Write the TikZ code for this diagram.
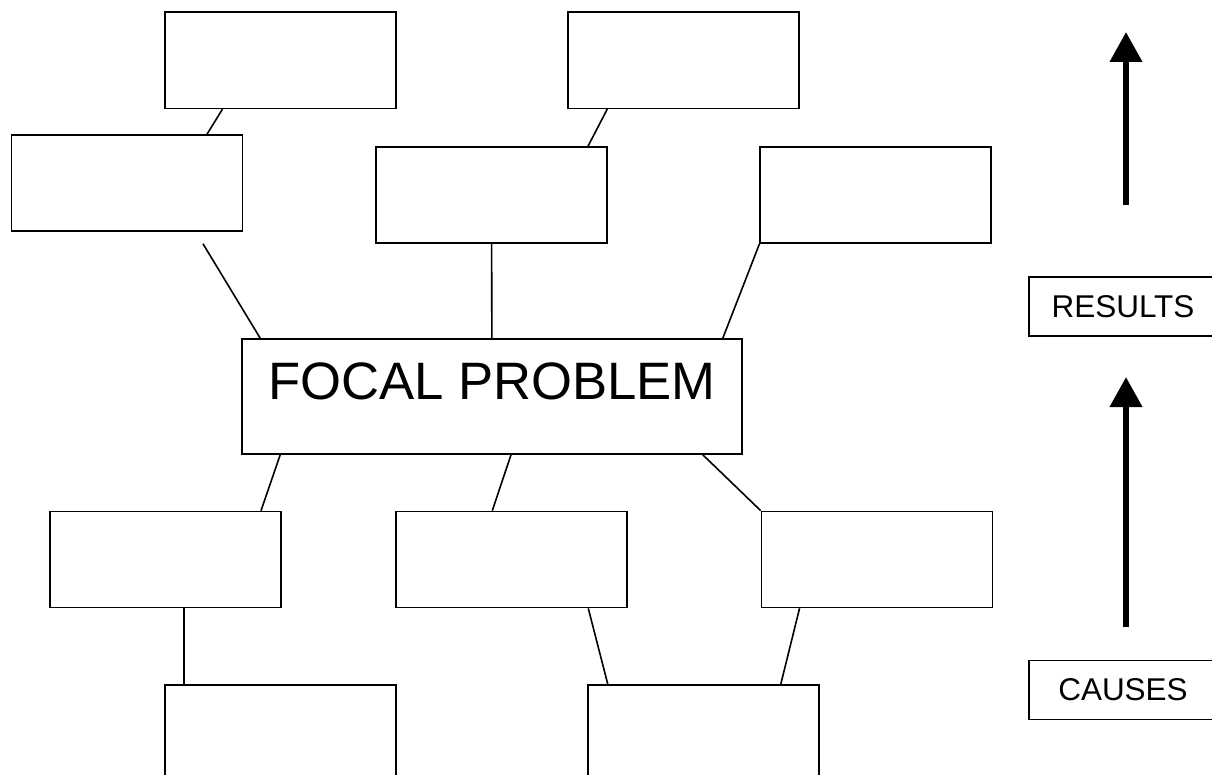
\documentclass[tikz,border=0pt]{standalone}
\usepackage{fontspec}
\setmainfont{Liberation Sans}
\usetikzlibrary{arrows.meta,calc,positioning}

\begin{document}
\begin{tikzpicture}[
  x=0.75pt, y=-0.75pt,
  box/.style={draw, line width=1.2pt, minimum width=173.25pt, minimum height=72pt, inner sep=0pt},
  focalbox/.style={draw, line width=1.2pt, minimum width=375pt, inner xsep=0pt, inner ysep=16.5pt,
    text height=28.5pt, text depth=24.75pt, font=\fontsize{39.5}{44}\selectfont},
  tag/.style={draw, line width=1.2pt, minimum width=141pt, minimum height=44.25pt, inner sep=0pt,
    font=\fontsize{23.6}{27}\selectfont},
  link/.style={line width=1.2pt},
  arr/.style={-{Triangle[length=22.5pt,width=23.5pt]}, line width=4.5pt}
]
\useasboundingbox (0,0) rectangle (1212,774);
\clip (0,0) rectangle (1212,774);

% results side
\node[box] (topL) at (280.5,60.3) {};
\node[box, right=128pt of topL] (topR) {};
\node[box] (effL) at (127,183) {};
\node[box] (effM) at (491.5,195) {};
\node[box, right=113.75pt of effM] (effR) {};
\node[focalbox] (focal) at (492,396.5) {FOCAL PROBLEM};
% causes side
\node[box] (cauL) at (165.5,559.5) {};
\node[box, right=85.25pt of cauL] (cauM) {};
\node[box, right=99.5pt of cauM] (cauR) {};
\node[box] (rootL) at (280.5,733) {};
\node[box, right=143pt of rootL] (rootR) {};
\node[tag] (results) at (1123,306.5) {RESULTS};
\node[tag] (causes) at (1123,690) {CAUSES};

\draw[link] ($(topL.south)+(-58,0)$) -- ($(effL.north)+(80,0)$);
\draw[link] ($(topR.south)+(-76.5,0)$) -- ($(effM.north)+(96.5,0)$);
\draw[link] ($(effL.south)+(76,12)$) -- ($(focal.north west)+(19,0)$);
\draw[link] (effM) -- (focal);
\draw[link] (effR.south west) -- ($(focal.north east)+(-20,0)$);
\draw[link] ($(focal.south west)+(39,0)$) -- ($(cauL.north)+(95.5,0)$);
\draw[link] ($(focal.south)+(19,0)$) -- ($(cauM.north)+(-19.5,0)$);
\draw[link] ($(focal.south east)+(-40,0)$) -- (cauR.north west);
\draw[link] ($(cauL.south)+(18.5,0)$) -- ($(rootL.north)+(-96.5,0)$);
\draw[link] ($(cauM.south)+(76.5,0)$) -- ($(rootR.north)+(-96,0)$);
\draw[link] ($(cauR.south)+(-77.5,0)$) -- ($(rootR.north)+(77,0)$);

% direction arrows
\coordinate (upTail) at (1126,205);
\coordinate (upTip) at (1126,32);
\coordinate (lowTail) at (1126,627);
\coordinate (lowTip) at (1126,377);
\draw[arr] (upTail) -- (upTip);
\draw[arr] (lowTail) -- (lowTip);
\end{tikzpicture}
\end{document}
